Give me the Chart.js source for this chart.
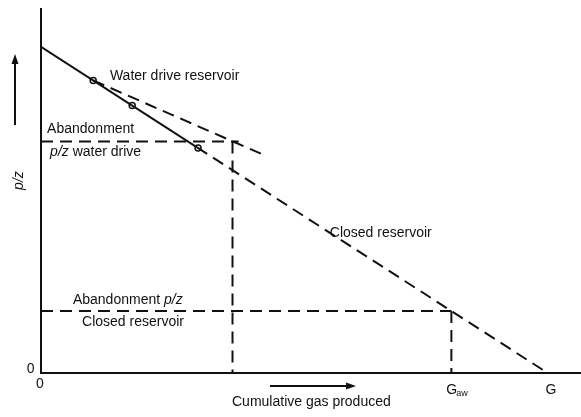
<!DOCTYPE html>
<html>
<head>
<meta charset="utf-8">
<script src="https://cdn.jsdelivr.net/npm/chart.js@4/dist/chart.umd.min.js"></script>
<style>
  body { margin: 0; background: #fff; }
  #chart { display: block; }
</style>
</head>
<body>
<canvas id="chart" width="581" height="417"></canvas>
<script>
// p/z against cumulative gas produced (x: G = 10, y: initial p/z = 10)
const closedSolidX = [0, 3.08];
const closedSolidY = [10, 6.92];
const closedDashX = [3.08, 10];
const closedDashY = [6.92, 0];
const waterDriveX = [1.03, 4.42];
const waterDriveY = [8.97, 6.67];
const measuredX = [1.03, 1.8, 3.1];
const measuredY = [8.97, 8.2, 6.9];
const abandonWaterX = [0, 3.9];
const abandonWaterY = [7.1, 7.1];
const recoveryWaterX = [3.78, 3.78];
const recoveryWaterY = [7.1, 0];
const abandonClosedX = [0, 8.1];
const abandonClosedY = [1.9, 1.9];
const recoveryClosedX = [8.1, 8.1];
const recoveryClosedY = [1.9, 0];

// text placed in data units
const labelText = ["Water drive reservoir", "Abandonment", "p/z water drive", "Closed reservoir",
                   "Abandonment p/z", "Closed reservoir", "Cumulative gas produced", "G", "0", "0"];
const labelX = [1.36, 0.12, 0.18, 5.7, 0.63, 0.81, 3.77, 9.96, -0.28, -0.1];
const labelY = [9.11, 7.49, 6.76, 4.28, 2.23, 1.56, -0.89, -0.52, 0.12, -0.34];
const gawLabel = { x: 8.0, y: -0.52 };

function pairs(xs, ys) {
    return xs.map((x, i) => ({ x: x, y: ys[i] }));
}

function lineSet(xs, ys, dashed) {
    return {
        data: pairs(xs, ys),
        showLine: true,
        borderColor: "#111",
        borderWidth: 2,
        borderDash: dashed ? [12, 7] : [],
        pointRadius: 0
    };
}

const FONT = "'Liberation Sans', Arial, sans-serif";
const SIZE = 14;

function drawRich(ctx, text, x, y) {
    // render "p/z" in italics, the rest upright
    let parts = text.split("p/z");
    let cx = x;
    parts.forEach((part, i) => {
        ctx.font = SIZE + "px " + FONT;
        ctx.fillText(part, cx, y);
        cx += ctx.measureText(part).width;
        if (i < parts.length - 1) {
            ctx.font = "italic " + SIZE + "px " + FONT;
            ctx.fillText("p/z", cx, y);
            cx += ctx.measureText("p/z").width;
        }
    });
}

const annotations = {
    id: "annotations",
    afterDraw(chart) {
        const ctx = chart.ctx;
        const xs = chart.scales.x, ys = chart.scales.y;
        const area = chart.chartArea;
        ctx.save();
        ctx.fillStyle = "#111";
        ctx.strokeStyle = "#111";
        ctx.textBaseline = "middle";
        ctx.textAlign = "left";

        // x axis runs on to the edge of the page
        ctx.lineWidth = 2;
        let y0 = ys.getPixelForValue(0);
        ctx.beginPath();
        ctx.moveTo(area.right - 1, y0);
        ctx.lineTo(chart.width, y0);
        ctx.stroke();

        labelText.forEach((t, i) => {
            drawRich(ctx, t, xs.getPixelForValue(labelX[i]), ys.getPixelForValue(labelY[i]));
        });

        // G with subscript aw
        let gx = xs.getPixelForValue(gawLabel.x), gy = ys.getPixelForValue(gawLabel.y);
        ctx.font = SIZE + "px " + FONT;
        ctx.fillText("G", gx, gy);
        ctx.font = "9px " + FONT;
        ctx.fillText("aw", gx + ctx.measureText("G").width + 3, gy + 4);

        // y-axis title
        ctx.save();
        ctx.translate(area.left - 22, ys.getPixelForValue(5.9));
        ctx.rotate(-Math.PI / 2);
        ctx.textAlign = "center";
        ctx.font = "italic " + SIZE + "px " + FONT;
        ctx.fillText("p/z", 0, 0);
        ctx.restore();

        // arrows
        let ax = area.left - 26;
        let ay0 = ys.getPixelForValue(7.6), ay1 = ys.getPixelForValue(9.6);
        ctx.beginPath();
        ctx.moveTo(ax, ay0);
        ctx.lineTo(ax, ay1);
        ctx.stroke();
        ctx.beginPath();
        ctx.moveTo(ax, ay1 - 6);
        ctx.lineTo(ax - 3.5, ay1 + 4);
        ctx.lineTo(ax + 3.5, ay1 + 4);
        ctx.closePath();
        ctx.fill();

        let by = ys.getPixelForValue(-0.4);
        let bx0 = xs.getPixelForValue(4.52), bx1 = xs.getPixelForValue(6.1);
        ctx.beginPath();
        ctx.moveTo(bx0, by);
        ctx.lineTo(bx1, by);
        ctx.stroke();
        ctx.beginPath();
        ctx.moveTo(bx1 + 6, by);
        ctx.lineTo(bx1 - 4, by - 3.5);
        ctx.lineTo(bx1 - 4, by + 3.5);
        ctx.closePath();
        ctx.fill();
        ctx.restore();
    }
};

new Chart(document.getElementById("chart"), {
    type: "scatter",
    data: {
        datasets: [
            lineSet(closedSolidX, closedSolidY, false),
            lineSet(closedDashX, closedDashY, true),
            lineSet(waterDriveX, waterDriveY, true),
            lineSet(abandonWaterX, abandonWaterY, true),
            lineSet(recoveryWaterX, recoveryWaterY, true),
            lineSet(abandonClosedX, abandonClosedY, true),
            lineSet(recoveryClosedX, recoveryClosedY, true),
            {
                data: pairs(measuredX, measuredY),
                showLine: false,
                pointRadius: 3,
                pointBackgroundColor: "#fff",
                pointBorderColor: "#111",
                pointBorderWidth: 1.5
            }
        ]
    },
    options: {
        responsive: false,
        animation: false,
        layout: { padding: { left: 41, top: 9, right: 0, bottom: 44 } },
        plugins: { legend: { display: false }, tooltip: { enabled: false } },
        scales: {
            x: {
                type: "linear", min: 0, max: 10.55,
                grid: { display: false, drawTicks: false },
                ticks: { display: false },
                border: { display: true, color: "#111", width: 2 }
            },
            y: {
                type: "linear", min: 0, max: 11.16,
                grid: { display: false, drawTicks: false },
                ticks: { display: false },
                border: { display: true, color: "#111", width: 2 }
            }
        }
    },
    plugins: [annotations]
});
</script>
</body>
</html>
